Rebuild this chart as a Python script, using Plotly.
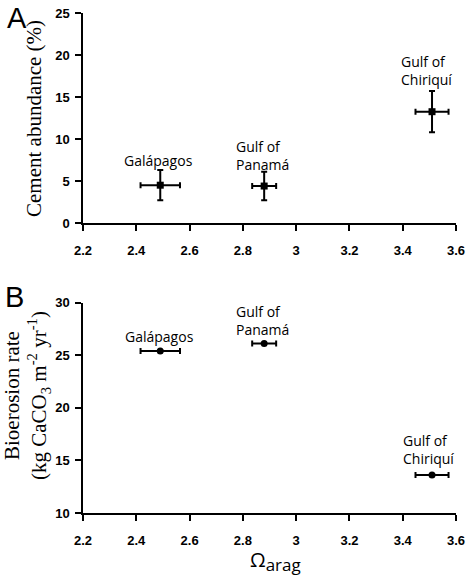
import plotly.graph_objects as go

# ---- data ----
sites = ["Galápagos", "Gulf of<br>Panamá", "Gulf of<br>Chiriquí"]
omega = [2.49, 2.88, 3.51]
omega_err = [0.074, 0.045, 0.062]
cement = [4.5, 4.4, 13.25]
cement_err = [1.8, 1.7, 2.45]
bioerosion = [25.4, 26.1, 13.6]
x_ticks = [2.2, 2.4, 2.6, 2.8, 3.0, 3.2, 3.4, 3.6]
x_ticklabels = ["2.2", "2.4", "2.6", "2.8", "3", "3.2", "3.4", "3.6"]
yA_ticks = [0, 5, 10, 15, 20, 25]
yB_ticks = [10, 15, 20, 25, 30]

# label offsets in pixels (layout only)
shiftA = [(-2, 25), (-1.5, 31), (-5.5, 41)]
shiftB = [(-1, 14), (-1.5, 23), (-4, 26)]

fig = go.Figure()
fig.add_trace(go.Scatter(
    x=omega, y=cement, mode="markers",
    marker=dict(symbol="square", size=7, color="black"),
    error_x=dict(type="data", array=omega_err, thickness=2, width=3, color="black"),
    error_y=dict(type="data", array=cement_err, thickness=2, width=3, color="black"),
    xaxis="x", yaxis="y", showlegend=False, hoverinfo="skip"))
fig.add_trace(go.Scatter(
    x=omega, y=bioerosion, mode="markers",
    marker=dict(symbol="circle", size=7, color="black"),
    error_x=dict(type="data", array=omega_err, thickness=2, width=3, color="black"),
    xaxis="x2", yaxis="y2", showlegend=False, hoverinfo="skip"))

tickfont = dict(family="Liberation Sans Narrow, Arial Narrow, Liberation Sans", size=13,
                color="black")
axcommon = dict(showgrid=False, zeroline=False, showline=True, linecolor="black",
                linewidth=1.5, ticks="outside", ticklen=6, tickwidth=1.5,
                tickcolor="black", tickfont=tickfont, automargin=False)

def bold(labels):
    return ["<b>%s</b>" % t for t in labels]

fig.update_layout(
    width=470, height=575,
    margin=dict(l=83, r=14, t=13, b=62),
    paper_bgcolor="white", plot_bgcolor="white",
    xaxis=dict(domain=[0, 1], anchor="y", range=[2.2, 3.6], tickvals=x_ticks,
               ticktext=bold(x_ticklabels), ticklabelstandoff=9, **axcommon),
    yaxis=dict(domain=[0.58, 1], anchor="x", range=[0, 25], tickvals=yA_ticks,
               ticktext=bold([str(v) for v in yA_ticks]), ticklabelstandoff=3, **axcommon),
    xaxis2=dict(domain=[0, 1], anchor="y2", range=[2.2, 3.6], tickvals=x_ticks,
                ticktext=bold(x_ticklabels), ticklabelstandoff=9, **axcommon),
    yaxis2=dict(domain=[0, 0.421], anchor="x2", range=[10, 30], tickvals=yB_ticks,
                ticktext=bold([str(v) for v in yB_ticks]), ticklabelstandoff=3, **axcommon),
)

labfont = dict(family="Open Sans, Noto Sans, sans-serif", size=14, color="black")
for i, s in enumerate(sites):
    al = "center" if i == 0 else "left"
    fig.add_annotation(x=omega[i], y=cement[i], xref="x", yref="y", text=s,
                       showarrow=False, xanchor="center", yanchor="middle", align=al,
                       xshift=shiftA[i][0], yshift=shiftA[i][1], font=labfont)
    fig.add_annotation(x=omega[i], y=bioerosion[i], xref="x2", yref="y2", text=s,
                       showarrow=False, xanchor="center", yanchor="middle", align=al,
                       xshift=shiftB[i][0], yshift=shiftB[i][1], font=labfont)

def px2x(px):
    return (px - 83) / 373.0

def py2y(py):
    return (513 - py) / 500.0

serif = dict(family="Liberation Serif, Times New Roman, serif", size=21, color="black")
fig.add_annotation(text="Cement abundance (%)", x=px2x(34), y=py2y(119), xref="paper",
                   yref="paper", textangle=-90, showarrow=False, xanchor="center",
                   yanchor="middle", font=serif)
fig.add_annotation(text="Bioerosion rate<br>(kg CaCO<sub>3</sub> m<sup>-2</sup> yr<sup>-1</sup>)",
                   x=px2x(27), y=py2y(396), xref="paper", yref="paper", textangle=-90,
                   showarrow=False, xanchor="center", yanchor="middle", font=serif)
fig.add_annotation(text="Ω<sub><span style='font-size:17px'>arag</span></sub>",
                   x=px2x(275), y=py2y(561), xref="paper", yref="paper",
                   showarrow=False, xanchor="center", yanchor="middle",
                   font=dict(family="Open Sans, Noto Sans, sans-serif", size=20, color="black"))
letter = dict(family="Liberation Sans, Arial, sans-serif", size=29, color="black")
fig.add_annotation(text="A", x=px2x(17), y=py2y(18), xref="paper", yref="paper",
                   showarrow=False, xanchor="center", yanchor="middle", font=letter)
fig.add_annotation(text="B", x=px2x(14), y=py2y(297), xref="paper", yref="paper",
                   showarrow=False, xanchor="center", yanchor="middle", font=letter)

fig.write_html("out.html", config={"displayModeBar": False},
               post_script="document.body.style.margin='0';document.body.style.overflow='hidden';")
